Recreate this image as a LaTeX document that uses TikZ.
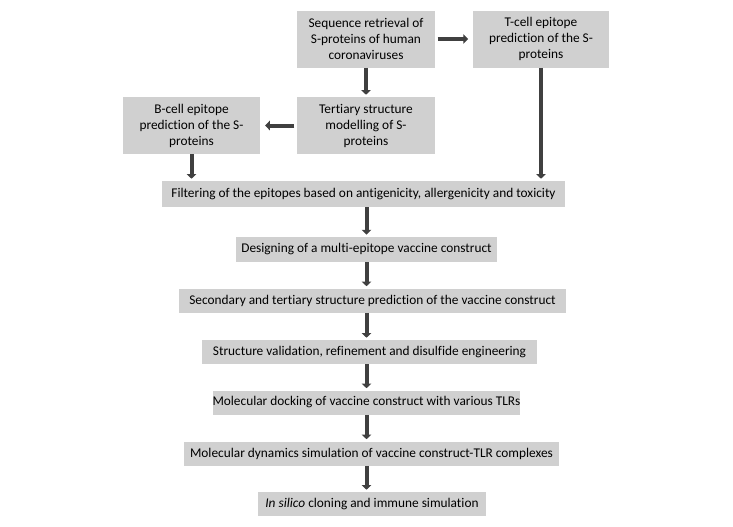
\documentclass[tikz,border=0pt]{standalone}
\usepackage{fontspec}
\setmainfont[Ligatures=NoCommon]{Carlito}
\usepackage{xcolor}
\usetikzlibrary{arrows.meta,positioning}
\definecolor{flowFill}{HTML}{D0D0D0}
\definecolor{flowArrow}{HTML}{404040}
\tikzset{
  flow diagram/.style={font=\fontsize{10}{12}\selectfont, text=black},
  flow box/.style={fill=flowFill, inner sep=0pt, align=center},
  flow arrow/.style={-{Triangle[width=7pt,length=3.5pt]}, draw=flowArrow,
    line width=3pt, shorten >=1.5pt}
}
\begin{document}
\begin{tikzpicture}[flow diagram, x=0.75pt, y=-0.75pt,
 flow tall/.style={flow box, minimum width=103pt, minimum height=42.75pt},
 flow wide/.style={flow box, minimum height=18pt}]
\useasboundingbox (0,0) rectangle (733,526);
% upper part
\node[flow tall] (seq) at (366,39) {Sequence retrieval of\\S-proteins of human\\coronaviruses};
\node[flow tall,minimum width=102pt] (tcell) at (541,39) {T-cell epitope\\prediction of the S-\\proteins};
\node[flow tall] (tert) at (366,125.5) {Tertiary structure\\modelling of S-\\proteins};
\node[flow tall] (bcell) at (191.5,125.5) {B-cell epitope\\prediction of the S-\\proteins};
% main chain
\node[flow wide,minimum width=302pt,minimum height=19.5pt] (filter) at (363.5,194) {Filtering of the epitopes based on antigenicity, allergenicity and toxicity};
\node[flow wide,minimum width=196pt,minimum height=19pt] (design) at (366.5,249.5) {Designing of a multi-epitope vaccine construct};
\node[flow wide,minimum width=290pt] (second) at (372.5,300.5) {Secondary and tertiary structure prediction of the vaccine construct};
\node[flow wide,minimum width=251pt] (valid) at (369.5,352) {Structure validation, refinement and disulfide engineering};
\node[flow wide,minimum width=230pt] (dock) at (366.5,402.5) {Molecular docking of vaccine construct with various TLRs};
\node[flow wide,minimum width=281pt] (md) at (371.5,453.5) {Molecular dynamics simulation of vaccine construct-TLR complexes};
\node[flow wide,minimum width=171pt] (silico) at (372,504) {\textit{In silico} cloning and immune simulation};
% connectors
\draw[flow arrow] ([xshift=2pt]seq.east) -- ([xshift=-2pt]tcell.west);
\draw[flow arrow] (seq) -- (tert);
\draw[flow arrow] ([xshift=-2pt]tert.west) -- ([xshift=2pt]bcell.west -| bcell.east);
\draw[flow arrow] (bcell) -- (bcell |- filter.north);
\draw[flow arrow] (tcell) -- (tcell |- filter.north);
\draw[flow arrow] (filter.south -| design) -- (design);
\draw[flow arrow] (design) -- (design |- second.north);
\draw[flow arrow] (second.south -| design) -- (design |- valid.north);
\draw[flow arrow] (valid.south -| design) -- (dock);
\draw[flow arrow] (dock) -- (dock |- md.north);
\draw[flow arrow] (md.south -| dock) -- (dock |- silico.north);
\end{tikzpicture}
\end{document}
